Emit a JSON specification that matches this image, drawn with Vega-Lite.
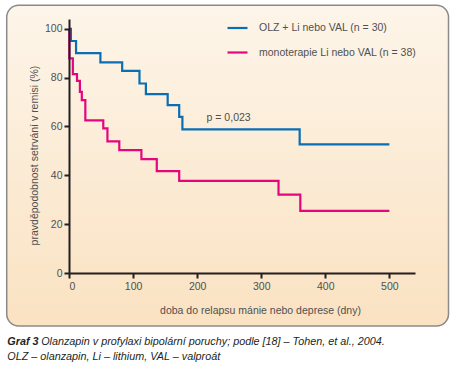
{
  "$schema": "https://vega.github.io/schema/vega-lite/v6.json",
  "width": 346,
  "height": 254,
  "autosize": {"type": "none"},
  "padding": {"left": 69, "top": 19, "right": 42, "bottom": 97},
  "background": "#ffffff",
  "config": {
    "view": {"stroke": null},
    "font": "Liberation Sans",
    "axis": {
      "grid": false,
      "domainColor": "#231f20",
      "domainWidth": 2,
      "tickColor": "#231f20",
      "tickWidth": 2,
      "tickSize": 5,
      "labelFont": "Liberation Sans",
      "labelFontSize": 10.5,
      "labelColor": "#505050",
      "titleFont": "Liberation Sans",
      "titleFontSize": 10.5,
      "titleFontWeight": "normal",
      "titleColor": "#505050"
    },
    "legend": {
      "labelFont": "Liberation Sans",
      "labelFontSize": 10.5,
      "labelColor": "#505050"
    }
  },
  "layer": [
    {
      "data": {"values": [{}]},
      "mark": {
        "type": "rect",
        "cornerRadius": 12,
        "stroke": "#8a8a8a",
        "strokeWidth": 1.5,
        "fill": {
          "gradient": "linear",
          "x1": 0, "y1": 0, "x2": 0, "y2": 1,
          "stops": [
            {"offset": 0, "color": "#fdf5e9"},
            {"offset": 1, "color": "#fae2c2"}
          ]
        }
      },
      "encoding": {
        "x": {
          "datum": -97.2, "type": "quantitative",
          "scale": {"domain": [0, 540], "nice": false},
          "axis": {
            "zindex": 2,
            "values": [0, 100, 200, 300, 400, 500],
            "labelPadding": 3,
            "title": "doba do relapsu mánie nebo deprese (dny)",
            "titleX": 191, "titleY": 37,
            "titleAnchor": null, "titleAlign": "center", "titleBaseline": "middle"
          }
        },
        "x2": {"datum": 592.3},
        "y": {
          "datum": -21.7, "type": "quantitative",
          "scale": {"domain": [0, 104], "nice": false},
          "axis": {
            "zindex": 2,
            "values": [0, 20, 40, 60, 80, 100],
            "labelPadding": 2,
            "title": "pravděpodobnost setrvání v remisi (%)",
            "titleX": -35, "titleY": 136,
            "titleAngle": -90, "titleAlign": "center", "titleBaseline": "middle"
          }
        },
        "y2": {"datum": 109.6}
      }
    },
    {
      "data": {
        "values": [
          {"t": 0, "p": 100, "group": "OLZ + Li nebo VAL (n = 30)"},
          {"t": 3, "p": 95, "group": "OLZ + Li nebo VAL (n = 30)"},
          {"t": 11, "p": 90, "group": "OLZ + Li nebo VAL (n = 30)"},
          {"t": 49, "p": 86.2, "group": "OLZ + Li nebo VAL (n = 30)"},
          {"t": 83, "p": 82.8, "group": "OLZ + Li nebo VAL (n = 30)"},
          {"t": 110, "p": 77.6, "group": "OLZ + Li nebo VAL (n = 30)"},
          {"t": 120, "p": 73.2, "group": "OLZ + Li nebo VAL (n = 30)"},
          {"t": 154, "p": 68.7, "group": "OLZ + Li nebo VAL (n = 30)"},
          {"t": 172, "p": 63.9, "group": "OLZ + Li nebo VAL (n = 30)"},
          {"t": 177, "p": 58.8, "group": "OLZ + Li nebo VAL (n = 30)"},
          {"t": 360, "p": 52.7, "group": "OLZ + Li nebo VAL (n = 30)"},
          {"t": 500, "p": 52.7, "group": "OLZ + Li nebo VAL (n = 30)"},
          {"t": 0, "p": 100, "group": "monoterapie Li nebo VAL (n = 38)"},
          {"t": 0.5, "p": 87.9, "group": "monoterapie Li nebo VAL (n = 38)"},
          {"t": 6, "p": 81.4, "group": "monoterapie Li nebo VAL (n = 38)"},
          {"t": 12.5, "p": 78.7, "group": "monoterapie Li nebo VAL (n = 38)"},
          {"t": 17, "p": 74.2, "group": "monoterapie Li nebo VAL (n = 38)"},
          {"t": 20, "p": 70.8, "group": "monoterapie Li nebo VAL (n = 38)"},
          {"t": 25.5, "p": 62.5, "group": "monoterapie Li nebo VAL (n = 38)"},
          {"t": 53.5, "p": 59.2, "group": "monoterapie Li nebo VAL (n = 38)"},
          {"t": 60, "p": 53.9, "group": "monoterapie Li nebo VAL (n = 38)"},
          {"t": 78.5, "p": 50.3, "group": "monoterapie Li nebo VAL (n = 38)"},
          {"t": 113, "p": 46.6, "group": "monoterapie Li nebo VAL (n = 38)"},
          {"t": 137, "p": 41.7, "group": "monoterapie Li nebo VAL (n = 38)"},
          {"t": 172, "p": 37.7, "group": "monoterapie Li nebo VAL (n = 38)"},
          {"t": 327, "p": 32.1, "group": "monoterapie Li nebo VAL (n = 38)"},
          {"t": 361, "p": 25.4, "group": "monoterapie Li nebo VAL (n = 38)"},
          {"t": 500, "p": 25.4, "group": "monoterapie Li nebo VAL (n = 38)"}
        ]
      },
      "mark": {"type": "line", "interpolate": "step-after", "strokeWidth": 2.2},
      "encoding": {
        "x": {"field": "t", "type": "quantitative"},
        "y": {"field": "p", "type": "quantitative"},
        "color": {
          "field": "group", "type": "nominal",
          "scale": {
            "domain": ["OLZ + Li nebo VAL (n = 30)", "monoterapie Li nebo VAL (n = 38)"],
            "range": ["#0a6eb4", "#e5067f"]
          },
          "legend": {
            "title": null,
            "orient": "none",
            "legendX": 157,
            "legendY": -2.5,
            "symbolType": "stroke",
            "symbolSize": 400,
            "symbolStrokeWidth": 2.2,
            "labelOffset": 10,
            "rowPadding": 7.5,
            "padding": 0
          }
        }
      }
    },
    {
      "data": {"values": [{}]},
      "mark": {"type": "text", "text": "p = 0,023", "align": "left", "baseline": "middle", "fontSize": 10.5, "color": "#505050"},
      "encoding": {
        "x": {"datum": 214.7, "type": "quantitative"},
        "y": {"datum": 63.5, "type": "quantitative"}
      }
    },
    {
      "data": {"values": [{}]},
      "mark": {"type": "text", "text": "Graf 3", "align": "left", "baseline": "middle", "fontSize": 10.8, "fontStyle": "italic", "fontWeight": "bold", "color": "#231f20"},
      "encoding": {
        "x": {"datum": -96.3, "type": "quantitative"},
        "y": {"datum": -28.1, "type": "quantitative"}
      }
    },
    {
      "data": {"values": [{}]},
      "mark": {"type": "text", "text": "Olanzapin v profylaxi bipolární poruchy; podle [18] – Tohen, et al., 2004.", "align": "left", "baseline": "middle", "fontSize": 10.8, "fontStyle": "italic", "color": "#231f20"},
      "encoding": {
        "x": {"datum": -43.5, "type": "quantitative"},
        "y": {"datum": -28.1, "type": "quantitative"}
      }
    },
    {
      "data": {"values": [{}]},
      "mark": {"type": "text", "text": "OLZ – olanzapin, Li – lithium, VAL – valproát", "align": "left", "baseline": "middle", "fontSize": 10.8, "fontStyle": "italic", "color": "#231f20"},
      "encoding": {
        "x": {"datum": -96.3, "type": "quantitative"},
        "y": {"datum": -34.5, "type": "quantitative"}
      }
    }
  ]
}
